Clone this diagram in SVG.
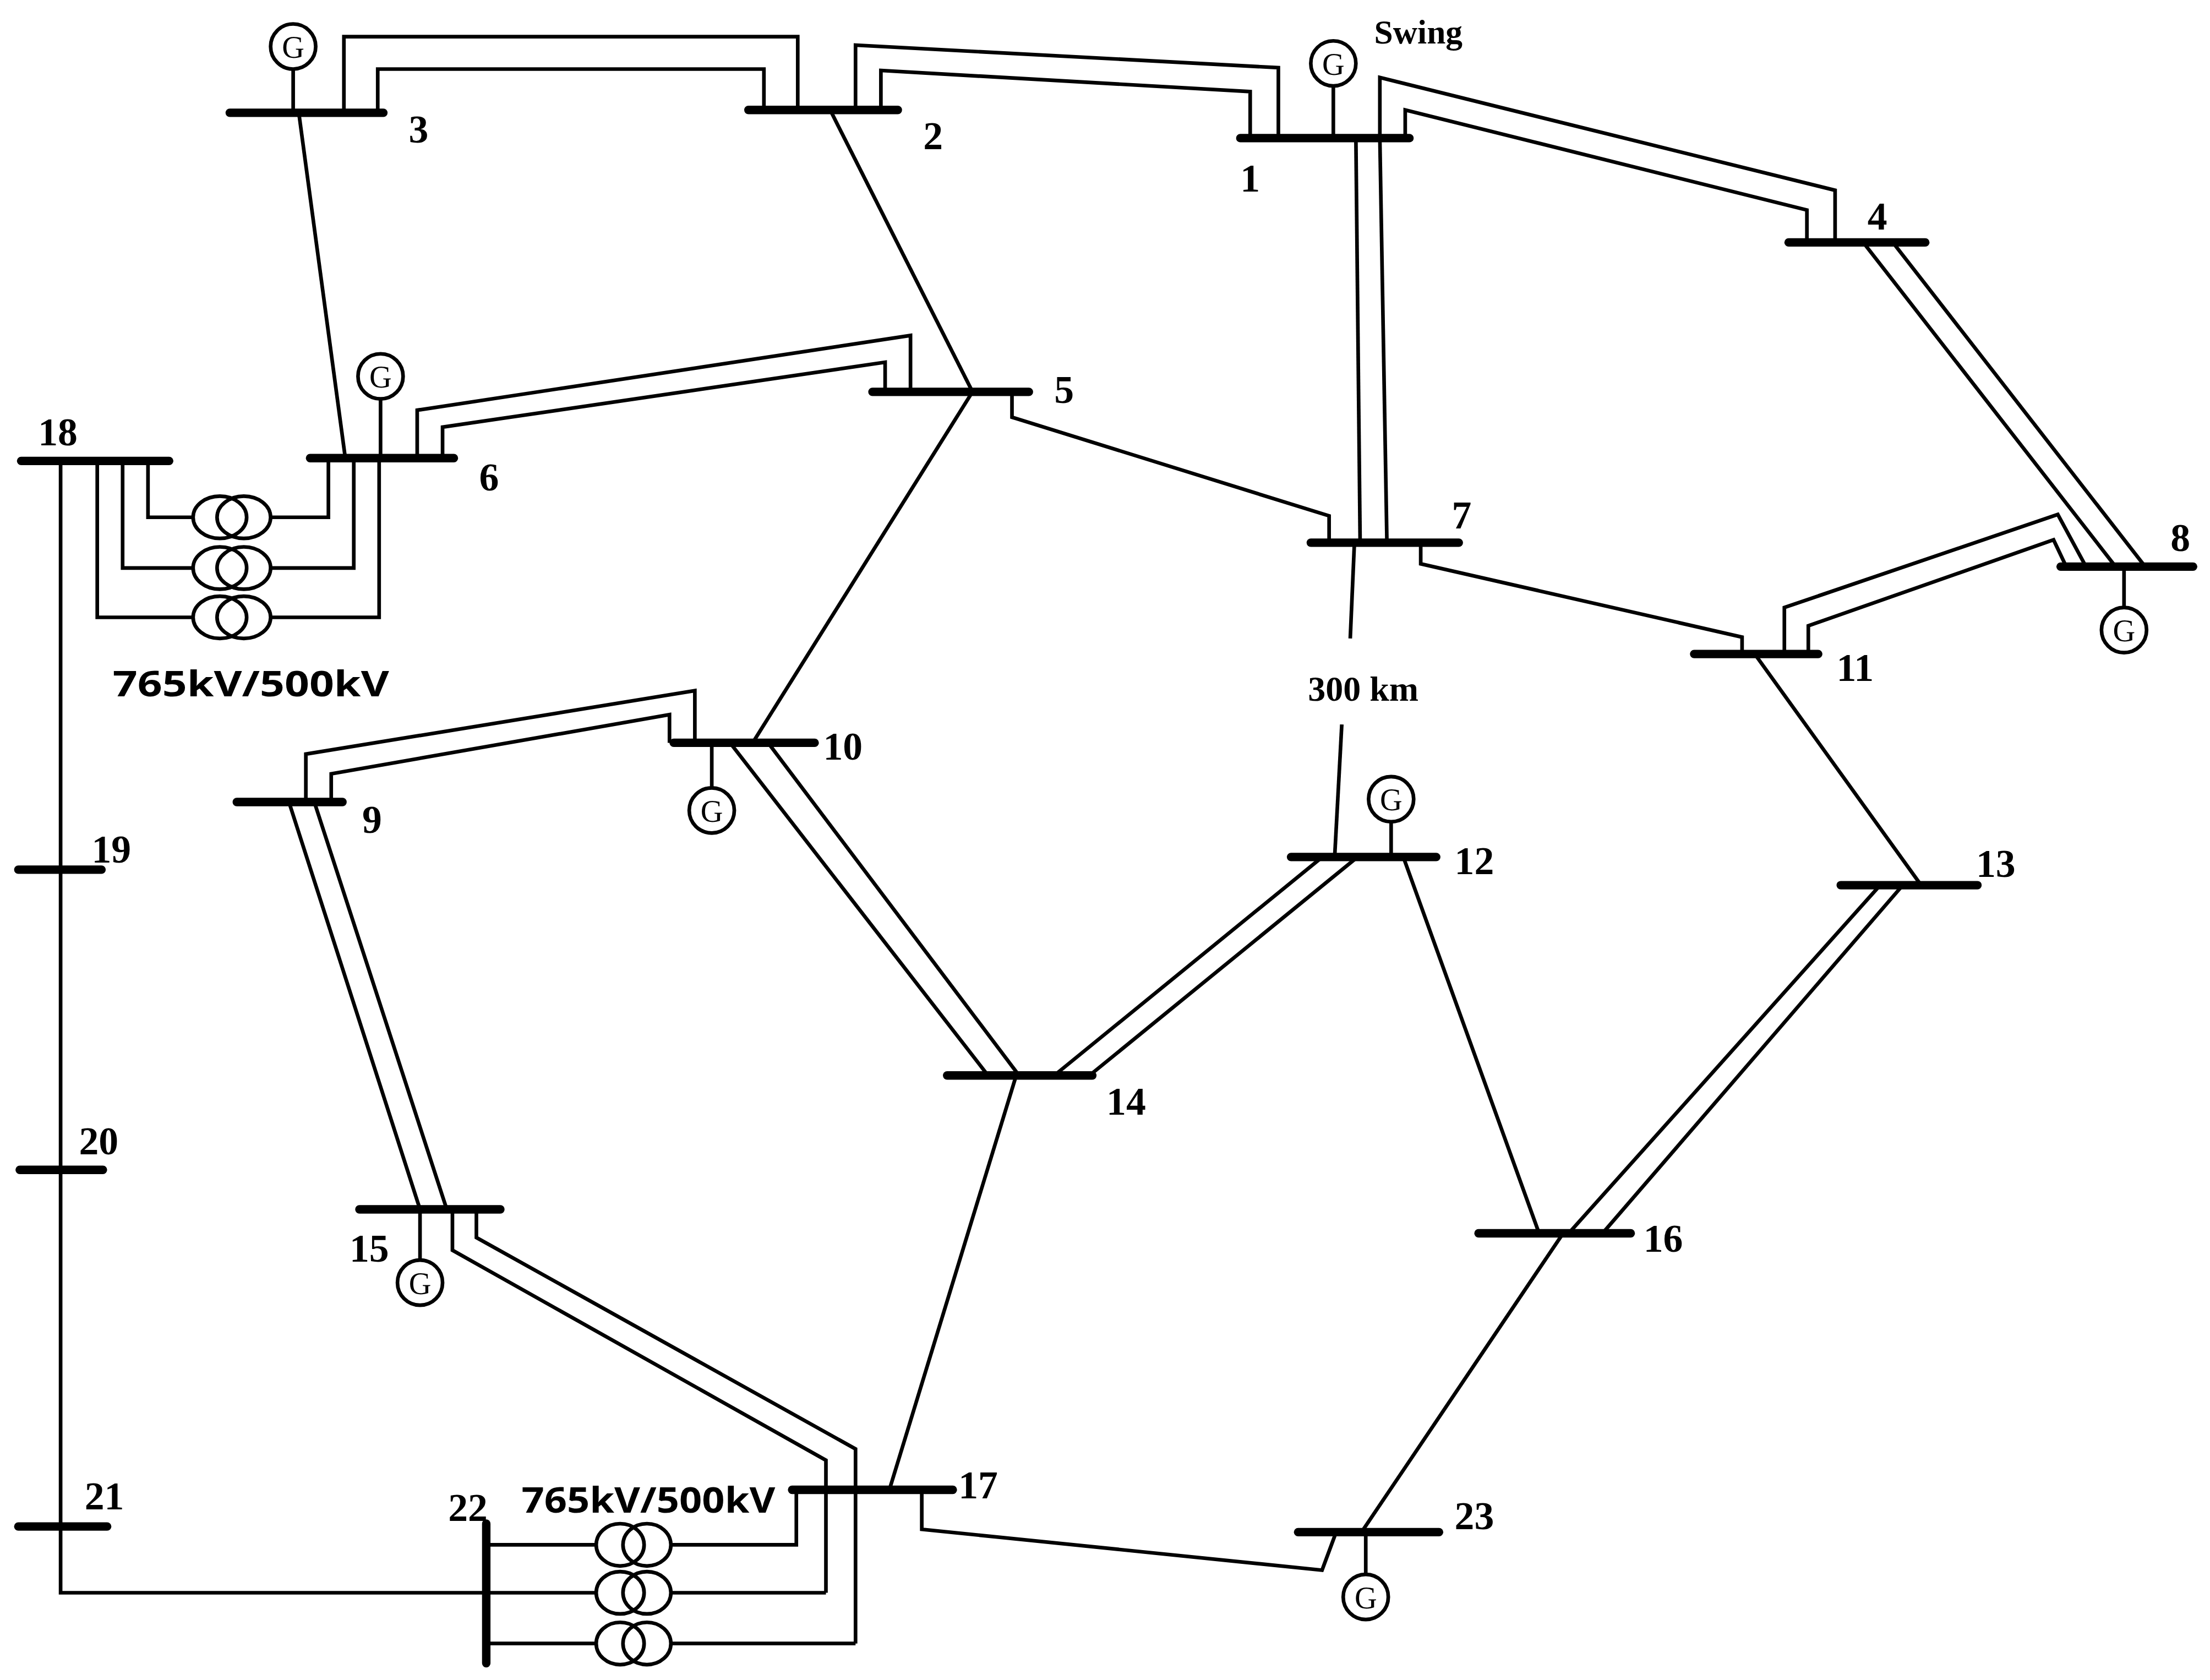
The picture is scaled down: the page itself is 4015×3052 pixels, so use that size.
<svg xmlns="http://www.w3.org/2000/svg" width="4015" height="3052" viewBox="0 0 4015 3052">
<style>
.bus{stroke:#000;stroke-width:6;stroke-linecap:round;fill:none}
.ln{stroke:#000;stroke-width:2.6;fill:none}
.gc{stroke:#000;stroke-width:2.6;fill:#fff}
.tx{stroke:#000;stroke-width:2.6;fill:none}
.lb{font-family:"Liberation Serif",serif;font-size:28px;font-weight:bold;fill:#000}
.gt{font-family:"Liberation Serif",serif;font-size:22px;fill:#000;text-anchor:middle}
.kv{font-family:"Open Sans","Liberation Sans",sans-serif;font-size:25px;font-weight:bold;fill:#000}
</style>
<rect width="4015" height="3052" fill="#fff"/>
<g transform="scale(2.5606)">
<g id="connectors">
<!-- single lines -->
<path class="ln" d="M212,80 L245,325"/>
<path class="ln" d="M590,80 L690,278"/>
<path class="ln" d="M690,278 L534,527"/>
<path class="ln" d="M718,278 L718,296 L943,366 L943,384"/>
<path class="ln" d="M1008,384 L1008,400 L1236,452 L1236,464"/>
<path class="ln" d="M961,384 L958,453"/>
<path class="ln" d="M952,514 L947,607"/>
<path class="ln" d="M1245,464 L1363,628"/>
<path class="ln" d="M996,609 L1092,875"/>
<path class="ln" d="M1109,875 L966,1087"/>
<path class="ln" d="M721,763 L631,1057"/>
<path class="ln" d="M654,1057 L654,1085 L938,1114 L948,1087"/>
<path class="ln" d="M43,327 L43,1130 L345,1130"/>
<!-- double lines -->
<path class="ln" d="M244,80 L244,26 L566,26 L566,78"/>
<path class="ln" d="M268,80 L268,49 L542,49 L542,78"/>
<path class="ln" d="M607,78 L607,32 L907,48 L907,98"/>
<path class="ln" d="M625,78 L625,50 L887,65 L887,98"/>
<path class="ln" d="M979,98 L979,55 L1302,135 L1302,172"/>
<path class="ln" d="M997,98 L997,78 L1282,149 L1282,172"/>
<path class="ln" d="M962,98 L965,384"/>
<path class="ln" d="M979,98 L984,384"/>
<path class="ln" d="M1322,172 L1501,402"/>
<path class="ln" d="M1343,172 L1522,402"/>
<path class="ln" d="M1480,402 L1460,365 L1266,431 L1266,464"/>
<path class="ln" d="M1466,402 L1457,383 L1283,444 L1283,464"/>
<path class="ln" d="M296,325 L296,291 L646,238 L646,278"/>
<path class="ln" d="M314,325 L314,303 L628,257 L628,278"/>
<path class="ln" d="M217,569 L217,535 L493,490 L493,527"/>
<path class="ln" d="M235,569 L235,549 L475,507 L475,527"/>
<path class="ln" d="M518,527 L701,763"/>
<path class="ln" d="M545,527 L723,763"/>
<path class="ln" d="M748,763 L937,609"/>
<path class="ln" d="M773,763 L962,609"/>
<path class="ln" d="M205,569 L298,858"/>
<path class="ln" d="M223,569 L317,858"/>
<path class="ln" d="M1334,628 L1113,875"/>
<path class="ln" d="M1350,628 L1137,875"/>
<path class="ln" d="M321,858 L321,887 L586,1036 L586,1130"/>
<path class="ln" d="M338,858 L338,878 L607,1028 L607,1166"/>
</g>
<g id="transformer-18-6">
<path class="ln" d="M69,327 L69,438 L137,438 M87,327 L87,403 L137,403 M105,327 L105,367 L137,367"/>
<path class="ln" d="M192,367 L233,367 L233,325 M192,403 L251,403 L251,325 M192,438 L269,438 L269,325"/>
<ellipse class="tx" cx="156" cy="367" rx="19" ry="15"/><ellipse class="tx" cx="173" cy="367" rx="19" ry="15"/>
<ellipse class="tx" cx="156" cy="403" rx="19" ry="15"/><ellipse class="tx" cx="173" cy="403" rx="19" ry="15"/>
<ellipse class="tx" cx="156" cy="438" rx="19" ry="15"/><ellipse class="tx" cx="173" cy="438" rx="19" ry="15"/>
<text class="kv" x="80" y="494" textLength="196" lengthAdjust="spacingAndGlyphs">765kV/500kV</text>
</g>
<g id="transformer-22-17">
<path class="ln" d="M345,1096 L423,1096 M345,1130 L423,1130 M345,1166 L423,1166"/>
<path class="ln" d="M476,1096 L565,1096 L565,1057 M476,1130 L586,1130 M476,1166 L607,1166"/>
<ellipse class="tx" cx="440" cy="1096" rx="17" ry="15"/><ellipse class="tx" cx="459" cy="1096" rx="17" ry="15"/>
<ellipse class="tx" cx="440" cy="1130" rx="17" ry="15"/><ellipse class="tx" cx="459" cy="1130" rx="17" ry="15"/>
<ellipse class="tx" cx="440" cy="1166" rx="17" ry="15"/><ellipse class="tx" cx="459" cy="1166" rx="17" ry="15"/>
<text class="kv" x="370" y="1073" textLength="180" lengthAdjust="spacingAndGlyphs">765kV/500kV</text>
</g>
<g id="bus1"><path class="bus" d="M880,98 L1000,98"/><line class="ln" x1="946" y1="61" x2="946" y2="98"/><circle class="gc" cx="946" cy="45" r="16"/><text class="gt" x="946" y="53">G</text><text class="lb" x="880" y="136">1</text><text class="lb" x="975" y="31" style="font-size:24px">Swing</text></g>
<g id="bus2"><path class="bus" d="M531,78 L637,78"/><text class="lb" x="655" y="106">2</text></g>
<g id="bus3"><path class="bus" d="M163,80 L272,80"/><line class="ln" x1="208" y1="49" x2="208" y2="80"/><circle class="gc" cx="208" cy="33" r="16"/><text class="gt" x="208" y="41">G</text><text class="lb" x="290" y="101">3</text></g>
<g id="bus4"><path class="bus" d="M1269,172 L1366,172"/><text class="lb" x="1325" y="163">4</text></g>
<g id="bus5"><path class="bus" d="M619,278 L730,278"/><text class="lb" x="748" y="286">5</text></g>
<g id="bus6"><path class="bus" d="M220,325 L322,325"/><line class="ln" x1="270" y1="283" x2="270" y2="325"/><circle class="gc" cx="270" cy="267" r="16"/><text class="gt" x="270" y="275">G</text><text class="lb" x="340" y="348">6</text></g>
<g id="bus7"><path class="bus" d="M930,385 L1035,385"/><text class="lb" x="1030" y="375">7</text></g>
<g id="bus8"><path class="bus" d="M1462,402 L1556,402"/><line class="ln" x1="1507" y1="402" x2="1507" y2="431"/><circle class="gc" cx="1507" cy="447" r="16"/><text class="gt" x="1507" y="455">G</text><text class="lb" x="1540" y="391">8</text></g>
<g id="bus9"><path class="bus" d="M168,569 L243,569"/><text class="lb" x="257" y="591">9</text></g>
<g id="bus10"><path class="bus" d="M478,527 L578,527"/><line class="ln" x1="505" y1="527" x2="505" y2="559"/><circle class="gc" cx="505" cy="575" r="16"/><text class="gt" x="505" y="583">G</text><text class="lb" x="584" y="539">10</text></g>
<g id="bus11"><path class="bus" d="M1202,464 L1290,464"/><text class="lb" x="1303" y="483">11</text></g>
<g id="bus12"><path class="bus" d="M916,608 L1019,608"/><line class="ln" x1="987" y1="583" x2="987" y2="608"/><circle class="gc" cx="987" cy="567" r="16"/><text class="gt" x="987" y="575">G</text><text class="lb" x="1032" y="620">12</text></g>
<g id="bus13"><path class="bus" d="M1306,628 L1403,628"/><text class="lb" x="1402" y="622">13</text></g>
<g id="bus14"><path class="bus" d="M672,763 L775,763"/><text class="lb" x="785" y="791">14</text></g>
<g id="bus15"><path class="bus" d="M255,858 L355,858"/><line class="ln" x1="298" y1="858" x2="298" y2="894"/><circle class="gc" cx="298" cy="910" r="16"/><text class="gt" x="298" y="918">G</text><text class="lb" x="248" y="895">15</text></g>
<g id="bus16"><path class="bus" d="M1049,875 L1157,875"/><text class="lb" x="1166" y="888">16</text></g>
<g id="bus17"><path class="bus" d="M562,1057 L676,1057"/><text class="lb" x="680" y="1063">17</text></g>
<g id="bus18"><path class="bus" d="M15,327 L120,327"/><text class="lb" x="27" y="316">18</text></g>
<g id="bus19"><path class="bus" d="M13,617 L72,617"/><text class="lb" x="65" y="612">19</text></g>
<g id="bus20"><path class="bus" d="M14,830 L73,830"/><text class="lb" x="56" y="819">20</text></g>
<g id="bus21"><path class="bus" d="M13,1083 L76,1083"/><text class="lb" x="60" y="1071">21</text></g>
<g id="bus22"><path class="bus" d="M345,1081 L345,1180"/><text class="lb" x="318" y="1079">22</text></g>
<g id="bus23"><path class="bus" d="M921,1087 L1021,1087"/><line class="ln" x1="969" y1="1087" x2="969" y2="1117"/><circle class="gc" cx="969" cy="1133" r="16"/><text class="gt" x="969" y="1141">G</text><text class="lb" x="1032" y="1085">23</text></g>
<text class="lb" x="928" y="497" style="font-size:25px">300 km</text>
</g>
</svg>
